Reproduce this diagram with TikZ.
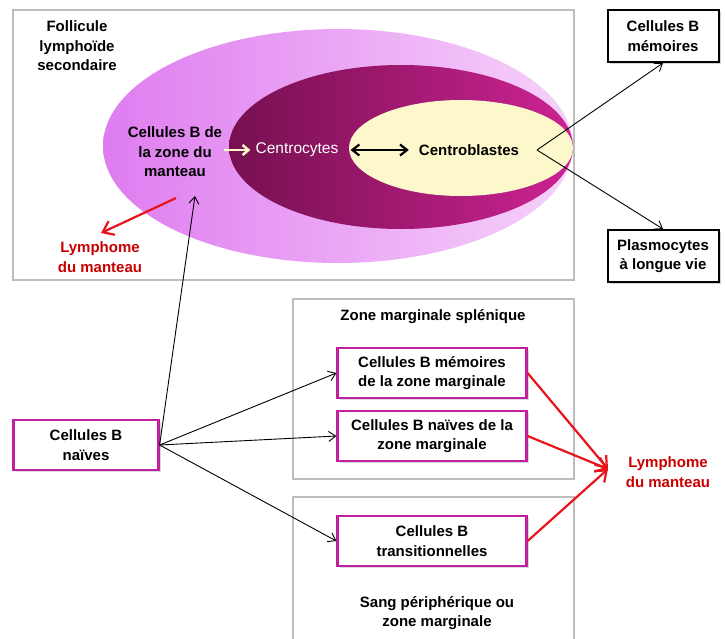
\documentclass[tikz,border=0pt]{standalone}
\usepackage{fontspec}
\setmainfont{Liberation Sans}
\usetikzlibrary{arrows.meta,shadows}
\definecolor{zonegray}{HTML}{BDBDBD}
\definecolor{magb}{HTML}{C0209E}
\definecolor{redarr}{HTML}{E8141C}
\definecolor{redtxt}{HTML}{C80000}
\definecolor{pinkL}{HTML}{DF7CF0}
\definecolor{pinkR}{HTML}{F6D2FA}
\definecolor{purL}{HTML}{761050}
\definecolor{purR}{HTML}{CC2392}
\definecolor{cream}{HTML}{FDF8CB}
\begin{document}
\begin{tikzpicture}[x=1pt,y=-1pt,
  txt/.style={font=\bfseries\fontsize{15}{19.5}\selectfont, align=center, inner sep=0pt},
  zonebox/.style={draw=zonegray, line width=2.5pt},
  blackbox/.style={draw=black, line width=2pt, fill=white, minimum width=111pt, minimum height=52pt, txt,
     drop shadow={shadow xshift=2pt, shadow yshift=-2pt, opacity=0.35}},
  magbox/.style={draw=magb, line width=2.2pt, fill=white, minimum height=50pt, txt,
     drop shadow={shadow xshift=2pt, shadow yshift=-2pt, opacity=0.3}},
  arr/.style={-{Straight Barb[length=7pt,width=10pt]}, line width=0.9pt},
  redarrow/.style={-{Straight Barb[length=10pt,width=15pt]}, line width=2.2pt, draw=redarr},
  redlab/.style={txt, text=redtxt}
]
\useasboundingbox (0,0) rectangle (725,638);

% zone boxes
\draw[zonebox] (13,10) rectangle (574,280);
\draw[zonebox] (293,299) rectangle (574,479);
\draw[zonebox] (293,497) rectangle (574,650);

% follicle ellipses
\shade[left color=pinkL, right color=pinkR] (338,146) ellipse [x radius=235, y radius=117];
\shade[left color=purL, right color=purR] (401,147) ellipse [x radius=172, y radius=82];
\fill[cream] (461,148) ellipse [x radius=112, y radius=48];

% texts in follicle
\node[txt] (fol) at (77,46) {Follicule\\lymphoïde\\secondaire};
\node[txt] (mant) at (175,152) {Cellules B de\\la zone du\\manteau};
\node[font=\fontsize{15.5}{19.5}\selectfont, text=white, inner sep=0pt] (cc) at (297,150) {Centrocytes};
\node[txt] (cb) at (469,150) {Centroblastes};
\node[redlab] (lym1) at (100,257) {Lymphome\\du manteau};

\draw[-{Straight Barb[length=6pt,width=10pt]}, line width=2.4pt, draw=cream, shorten <=2pt, shorten >=5pt] (mant.east |- cc.west) -- (cc.west);
\draw[{Straight Barb[length=7pt,width=11pt]}-{Straight Barb[length=7pt,width=11pt]}, line width=2.2pt, shorten <=12pt, shorten >=10pt] (cc.east) -- (cb.west);

\coordinate (rs) at (176,198);
\coordinate (re) at (101,233);
\draw[redarrow] (rs) -- (re);

% right boxes
\node[blackbox] (mem) at (663,36) {Cellules B\\mémoires};
\node[blackbox] (plas) at (663,256) {Plasmocytes\\à longue vie};
\coordinate (cbo) at (537,150);
\draw[arr] (cbo) -- (mem.south);
\draw[arr] (cbo) -- (plas.north);

% lower part
\node[txt] (zms) at (433,317) {Zone marginale splénique};
\node[txt] (sang) at (437,613) {Sang périphérique ou\\zone marginale};

\node[magbox, minimum width=145pt] (naive) at (86,445) {Cellules B\\naïves};
\node[magbox, minimum width=189pt] (mzm) at (432,373) {Cellules B mémoires\\de la zone marginale};
\node[magbox, minimum width=189pt] (mzn) at (432,436) {Cellules B naïves de la\\zone marginale};
\node[magbox, minimum width=189pt] (tr) at (432,541) {Cellules B\\transitionnelles};

\coordinate (mtip) at (195,196);
\draw[arr] (naive.east) -- (mtip);
\draw[arr] (naive.east) -- (mzm.west);
\draw[arr] (naive.east) -- (mzn.west);
\draw[arr] (naive.east) -- (tr.west);

\node[redlab] (lym2) at (668,472) {Lymphome\\du manteau};
\coordinate (lt) at (608,469);
\draw[redarrow] (mzm.east) -- (lt);
\draw[redarrow] (mzn.east) -- (lt);
\draw[redarrow] (tr.east) -- (lt);
\end{tikzpicture}
\end{document}
